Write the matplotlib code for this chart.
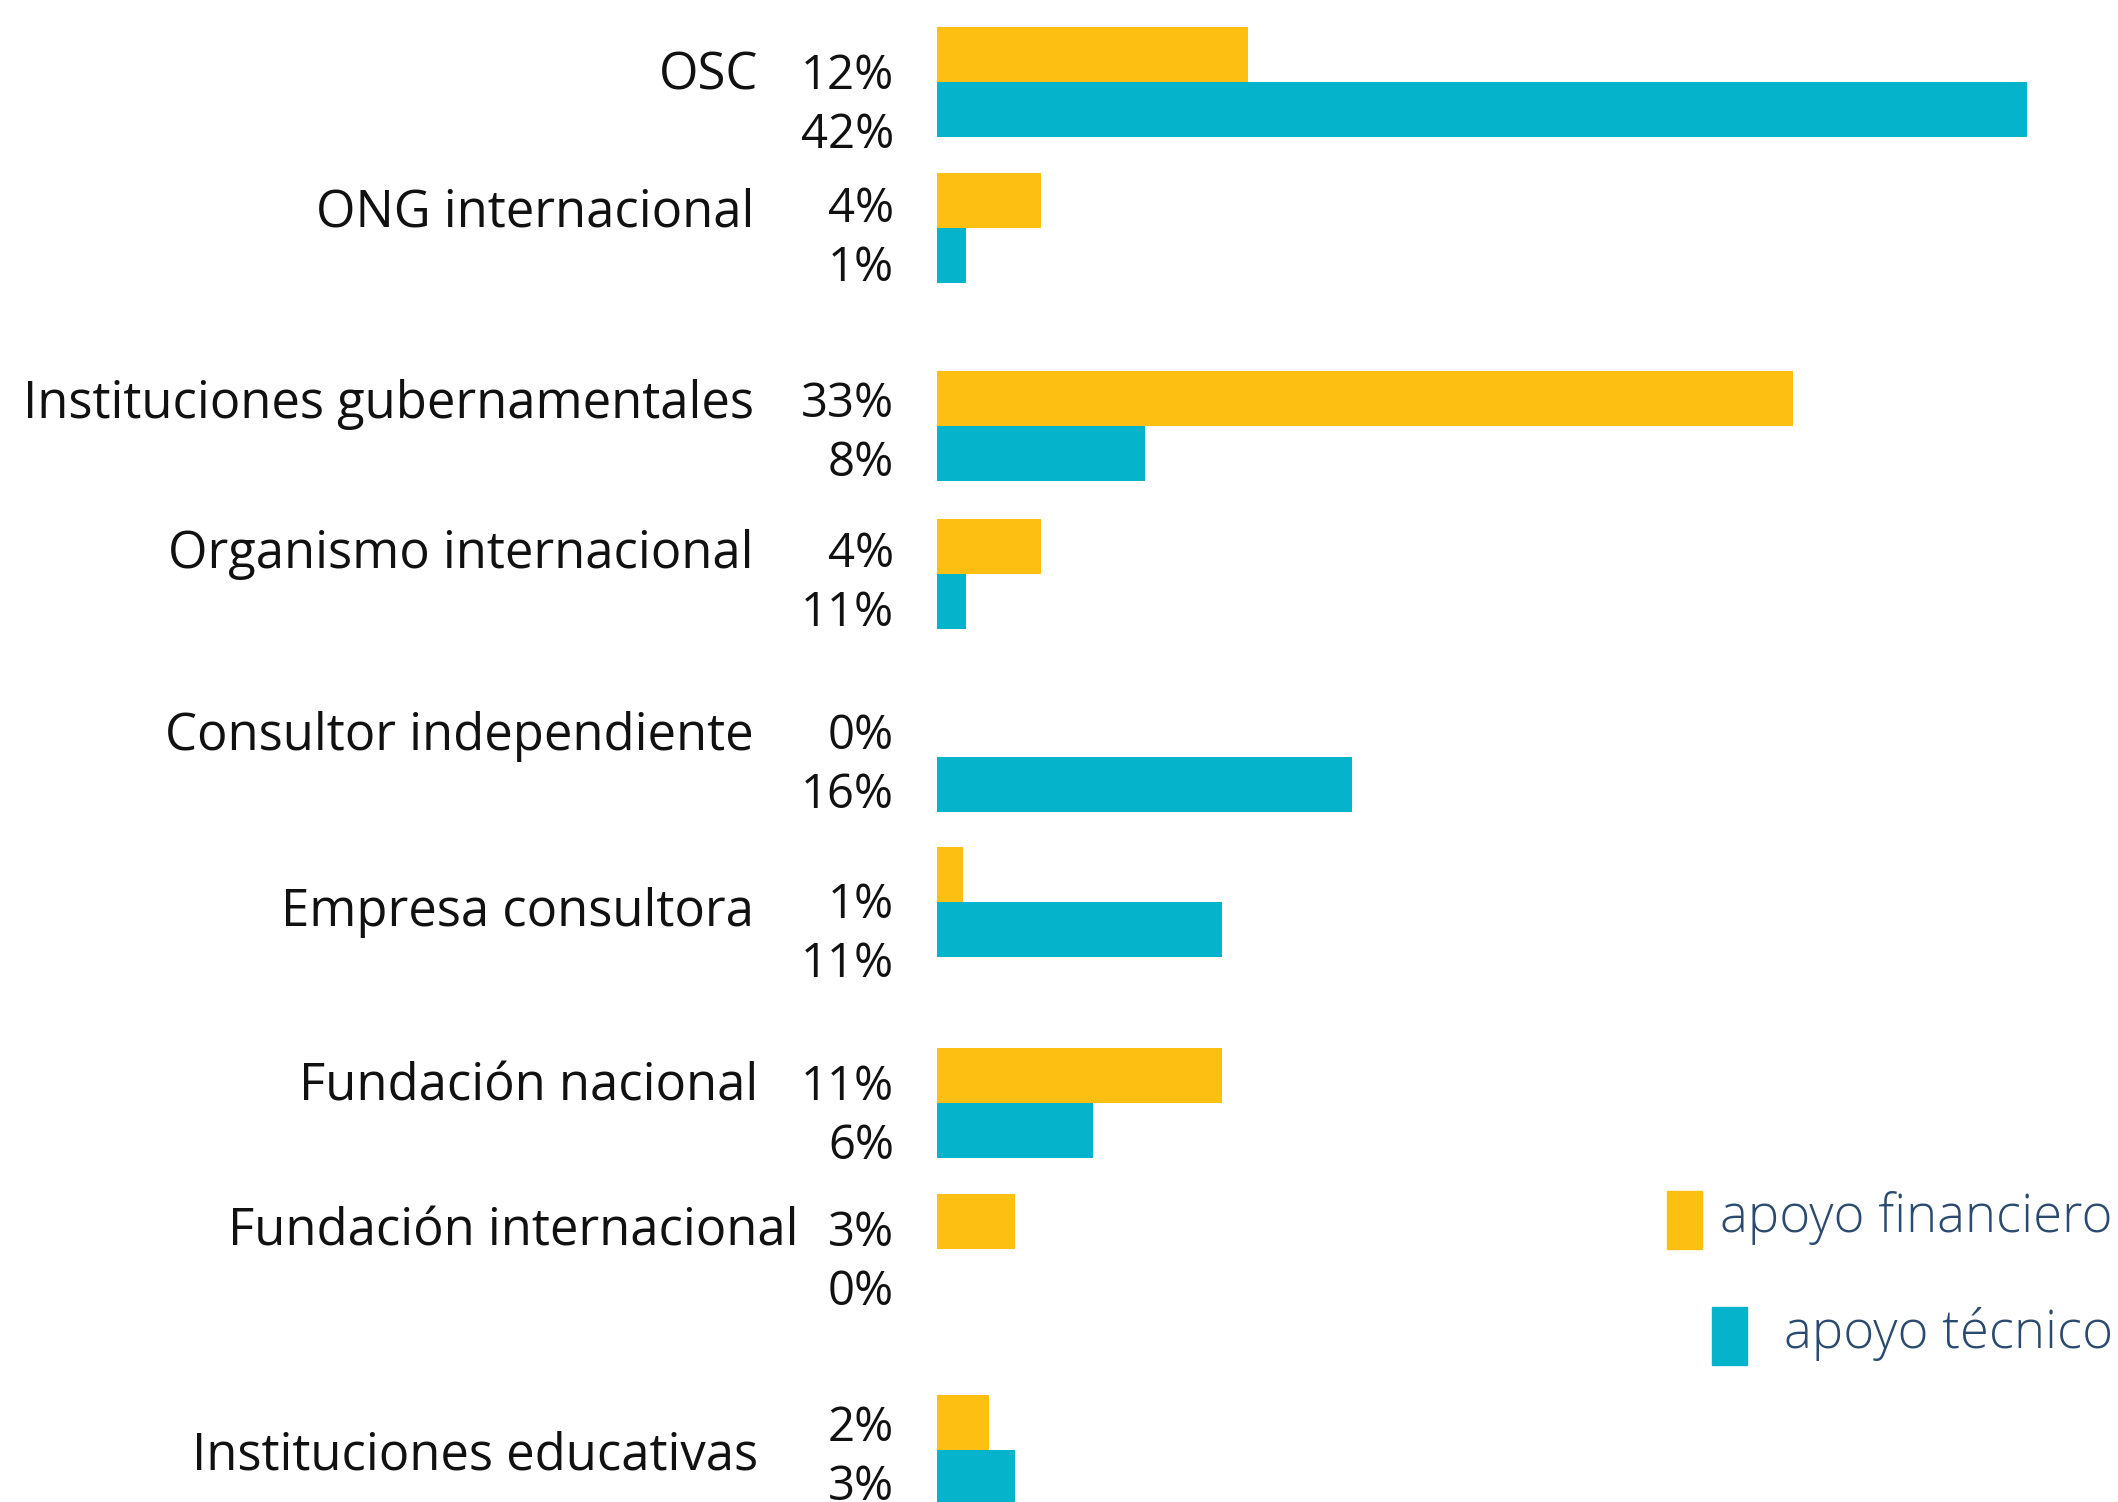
import matplotlib.pyplot as plt
from matplotlib.transforms import blended_transform_factory
from matplotlib.patches import Rectangle

# categories and values (% of respondents)
categories = ['OSC', 'ONG internacional', 'Instituciones gubernamentales',
              'Organismo internacional', 'Consultor independiente',
              'Empresa consultora', 'Fundación nacional',
              'Fundación internacional', 'Instituciones educativas']
financiero = [12, 4, 33, 4, 0, 1, 11, 3, 2]
tecnico = [42, 1.1, 8, 1.1, 16, 11, 6, 0, 3]
financiero_labels = ['12%', '4%', '33%', '4%', '0%', '1%', '11%', '3%', '2%']
tecnico_labels = ['42%', '1%', '8%', '11%', '16%', '11%', '6%', '0%', '3%']

# layout (pixel rows of the original figure, top = 0)
bar_y = [54, 200, 398, 546, 729, 874, 1075, 1221, 1422]
bar_h = 55
label_y = [76, 213, 404, 554, 736, 912, 1087, 1232, 1456]
label_x = [758, 754, 754, 754, 754, 754, 758, 798, 758]
pct_y = [76, 209, 404, 554, 736, 905, 1087, 1233, 1428]

yellow = '#FDBF12'
teal = '#05B3CB'
navy = '#2B4A70'
W, H = 2118, 1502
x0, px_per_pct = 937, 25.95

plt.rcParams['font.family'] = ['Open Sans', 'DejaVu Sans']

fig = plt.figure(figsize=(W / 100, H / 100), dpi=100)
ax = fig.add_axes([0, 0, 1, 1])
ax.set_xlim(-x0 / px_per_pct, (W - x0) / px_per_pct)
ax.set_ylim(H, 0)
ax.axis('off')

ax.barh(bar_y, financiero, height=bar_h, color=yellow)
ax.barh([y + bar_h for y in bar_y], tecnico, height=bar_h, color=teal)

tr = blended_transform_factory(ax.transAxes, ax.transData)
for i, cat in enumerate(categories):
    ax.text(label_x[i] / W, label_y[i], cat, transform=tr, ha='right', va='center',
            fontsize=36.5, color='#111111')
    ax.text(894 / W, pct_y[i], financiero_labels[i], transform=tr, ha='right',
            va='center', fontsize=34, color='#111111')
    ax.text(894 / W, pct_y[i] + 59, tecnico_labels[i], transform=tr, ha='right',
            va='center', fontsize=34, color='#111111')

# legend drawn by hand to match the original placement
ftr = fig.transFigure
fig.patches.append(Rectangle((1667 / W, 1 - 1249 / H), 35 / W, 58 / H,
                             color=yellow, transform=ftr))
fig.patches.append(Rectangle((1712 / W, 1 - 1365 / H), 35 / W, 58 / H,
                             color=teal, transform=ftr))
fig.text(2113 / W, 1 - 1218 / H, 'apoyo financiero', ha='right', va='center',
         fontsize=38, color=navy, fontweight='light')
fig.text(2113 / W, 1 - 1334 / H, 'apoyo técnico', ha='right', va='center',
         fontsize=38, color=navy, fontweight='light')

fig.savefig('out.png', dpi=100, facecolor='white')
